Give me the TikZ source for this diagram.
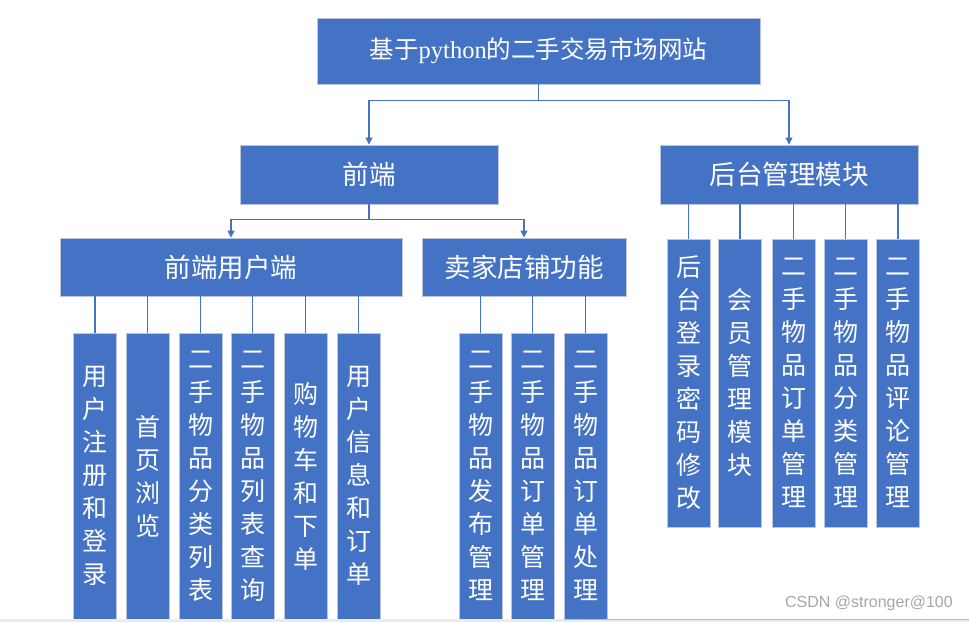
\documentclass[tikz,border=0pt]{standalone}
\usepackage{fontspec,tikz}
\usetikzlibrary{arrows.meta}
\newfontfamily\cjk{Noto Sans CJK SC}
\newfontfamily\latinserif{Liberation Serif}
\newfontfamily\marksans{Liberation Sans}
\definecolor{boxblue}{HTML}{4472C4}
\definecolor{boxedge}{HTML}{BCC6DA}
\definecolor{markgray}{HTML}{A6A6A6}

\begin{document}
\begin{tikzpicture}[x=1pt,y=-1pt,
  box/.style={draw=boxedge,fill=boxblue,line width=.9pt,text=white,inner sep=0pt,align=center},
  head/.style={box,font=\cjk\fontsize{26.5}{30}\selectfont,minimum height=58pt},
  leaf/.style={box,font=\cjk\fontsize{25}{33}\selectfont,minimum width=43pt},
  link/.style={draw=boxblue,line width=1.1pt},
  arr/.style={link,-{Triangle[length=7pt,width=7pt]}}]
\useasboundingbox (0,0) rectangle (969,622);
\node[box,font=\cjk\fontsize{24.5}{28}\selectfont,minimum width=443pt,minimum height=66pt] (site) at (538.5,51) {基于{\latinserif python}的二手交易市场网站};
\node[head,minimum width=258pt,minimum height=59pt] (front) at (369,174.5) {前端};
\node[head,minimum width=258pt,minimum height=59pt] (admin) at (789,174.5) {后台管理模块};
\node[head,minimum width=342pt] (user) at (231,267) {前端用户端};
\node[head,minimum width=204pt] (shop) at (524,267) {卖家店铺功能};
% leaves of the user side
\node[leaf,minimum height=286pt] (u1) at (95,476) {用\\户\\注\\册\\和\\登\\录};
\node[leaf,minimum height=286pt] (u2) at (147.5,476) {首\\页\\浏\\览};
\node[leaf,minimum height=286pt] (u3) at (200.5,476) {二\\手\\物\\品\\分\\类\\列\\表};
\node[leaf,minimum height=286pt] (u4) at (252.5,476) {二\\手\\物\\品\\列\\表\\查\\询};
\node[leaf,minimum height=286pt] (u5) at (305.5,476) {购\\物\\车\\和\\下\\单};
\node[leaf,minimum height=286pt] (u6) at (358.5,476) {用\\户\\信\\息\\和\\订\\单};
% leaves of the shop side
\node[leaf,minimum height=286pt] (s1) at (480.5,476) {二\\手\\物\\品\\发\\布\\管\\理};
\node[leaf,minimum height=286pt] (s2) at (532.5,476) {二\\手\\物\\品\\订\\单\\管\\理};
\node[leaf,minimum height=286pt] (s3) at (585.5,476) {二\\手\\物\\品\\订\\单\\处\\理};
% leaves of the admin side
\node[leaf,minimum height=288pt] (a1) at (688.5,383) {后\\台\\登\\录\\密\\码\\修\\改};
\node[leaf,minimum height=288pt] (a2) at (740,383) {会\\员\\管\\理\\模\\块};
\node[leaf,minimum height=288pt] (a3) at (793.5,383) {二\\手\\物\\品\\订\\单\\管\\理};
\node[leaf,minimum height=288pt] (a4) at (845.5,383) {二\\手\\物\\品\\分\\类\\管\\理};
\node[leaf,minimum height=288pt] (a5) at (898,383) {二\\手\\物\\品\\评\\论\\管\\理};
% connectors
\draw[arr] (site.south) -- ++(0,16) -| (front.north);
\draw[arr] (site.south) -- ++(0,16) -| (admin.north);
\draw[arr] (front.south) -- ++(0,15) -| (user.north);
\draw[arr] (front.south) -- ++(0,15) -| (shop.north);
\foreach \leafname in {u1,u2,u3,u4,u5,u6}
  \draw[link] (user.south -| \leafname.north) -- (\leafname.north);
\foreach \leafname in {s1,s2,s3}
  \draw[link] (shop.south -| \leafname.north) -- (\leafname.north);
\foreach \leafname in {a1,a2,a3,a4,a5}
  \draw[link] (admin.south -| \leafname.north) -- (\leafname.north);
% screenshot edge and mark
\fill[gray!15] (0,619) rectangle (969,622);
\draw[gray!55,line width=1pt] (564,619.5) -- (969,619.5);
\node[font=\marksans\fontsize{16}{18}\selectfont,text=markgray,anchor=east,inner sep=0pt] (mark) at (953,603) {CSDN @stronger@100};
\end{tikzpicture}
\end{document}
